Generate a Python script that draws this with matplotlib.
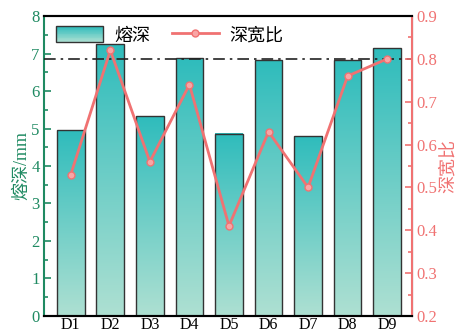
import matplotlib
matplotlib.use('Agg')
import matplotlib.pyplot as plt
import numpy as np
from matplotlib.colors import LinearSegmentedColormap
from matplotlib.legend_handler import HandlerBase
from matplotlib.patches import Rectangle
from matplotlib.ticker import MultipleLocator

plt.rcParams['font.family'] = ['Liberation Serif', 'Noto Sans CJK SC']
plt.rcParams['font.size'] = 12

# Samples and measured results
samples = ['D1', 'D2', 'D3', 'D4', 'D5', 'D6', 'D7', 'D8', 'D9']
depth = [4.95, 7.25, 5.33, 6.88, 4.86, 6.82, 4.80, 6.82, 7.14]
ratio = [0.53, 0.82, 0.56, 0.74, 0.41, 0.63, 0.50, 0.76, 0.80]
ref_depth = 6.85

green = '#1f8a62'
red = '#f07272'
teal_cmap = LinearSegmentedColormap.from_list('teal', ['#aee0d2', '#2fbcbc'])


class GradientHandler(HandlerBase):
    # legend key filled with the same vertical gradient as the bars
    def create_artists(self, legend, orig_handle, xdescent, ydescent,
                       width, height, fontsize, trans):
        arts = []
        n = 20
        for i in range(n):
            r = Rectangle((-xdescent, -ydescent + height * i / n), width,
                          height / n + 0.2, facecolor=teal_cmap(i / (n - 1)),
                          edgecolor='none', transform=trans)
            arts.append(r)
        arts.append(Rectangle((-xdescent, -ydescent), width, height,
                              fill=False, edgecolor='#333333', lw=1,
                              transform=trans))
        return arts


fig = plt.figure(figsize=(4.62, 3.34), dpi=100)
ax1 = fig.add_axes([0.095, 0.054, 0.797, 0.898])
ax2 = ax1.twinx()

x = np.arange(len(samples))
w = 0.7
grad = np.linspace(0, 1, 256).reshape(-1, 1)
for xi, h in zip(x, depth):
    ax1.imshow(grad, extent=[xi - w / 2, xi + w / 2, 0, h], origin='lower',
               cmap=teal_cmap, aspect='auto', zorder=2)
bars = ax1.bar(x, depth, width=w, fill=False, edgecolor='#333333',
               linewidth=1, zorder=3, label='熔深')
ax1.axhline(ref_depth, color='#222222', ls=(0, (7, 3, 1.5, 3)), lw=1.2,
            zorder=4)

ax1.set_xlim(-0.68, 8.63)
ax1.set_ylim(0, 8)
ax1.set_xticks(x)
ax1.set_xticklabels(samples, fontsize=11.5)
ax1.yaxis.set_major_locator(MultipleLocator(1))
ax1.yaxis.set_minor_locator(MultipleLocator(0.5))
ax1.set_ylabel('熔深/mm', color=green, fontsize=13, labelpad=1)
ax1.tick_params(axis='y', which='both', direction='in', colors=green, pad=3)
ax1.tick_params(axis='y', which='major', length=5, width=1.2)
ax1.tick_params(axis='y', which='minor', length=3, width=1.2)
ax1.tick_params(axis='x', direction='in', length=5, width=1.2,
                colors='black', pad=1)
ax1.spines['left'].set_color(green)
ax1.spines['left'].set_linewidth(1.5)
ax1.spines['bottom'].set_linewidth(1.5)
ax1.spines['top'].set_linewidth(1.5)

line, = ax2.plot(x, ratio, color=red, lw=2, marker='o', ms=5,
                 mfc='#f9a5a5', mec=red, mew=1, zorder=5, label='深宽比')
ax2.set_ylim(0.2, 0.9)
ax2.yaxis.set_major_locator(MultipleLocator(0.1))
ax2.yaxis.set_minor_locator(MultipleLocator(0.05))
ax2.set_ylabel('深宽比', color=red, fontsize=13, rotation=90, labelpad=2)
ax2.tick_params(axis='y', which='both', direction='in', colors=red, pad=3)
ax2.tick_params(axis='y', which='major', length=5, width=1.2)
ax2.tick_params(axis='y', which='minor', length=3, width=1.2)
ax2.spines['right'].set_color(red)
ax2.spines['right'].set_linewidth(1.5)
ax2.spines['left'].set_visible(False)
ax2.spines['top'].set_linewidth(1.5)
ax2.spines['bottom'].set_linewidth(1.5)

ax2.legend([bars, line], ['熔深', '深宽比'], ncol=2, frameon=False,
           loc='upper left', bbox_to_anchor=(-0.01, 1.02),
           handler_map={bars: GradientHandler()},
           handlelength=2.6, handleheight=1.0, columnspacing=1.2,
           handletextpad=0.6, fontsize=13)

fig.savefig('out.png', dpi=100, facecolor='white')
